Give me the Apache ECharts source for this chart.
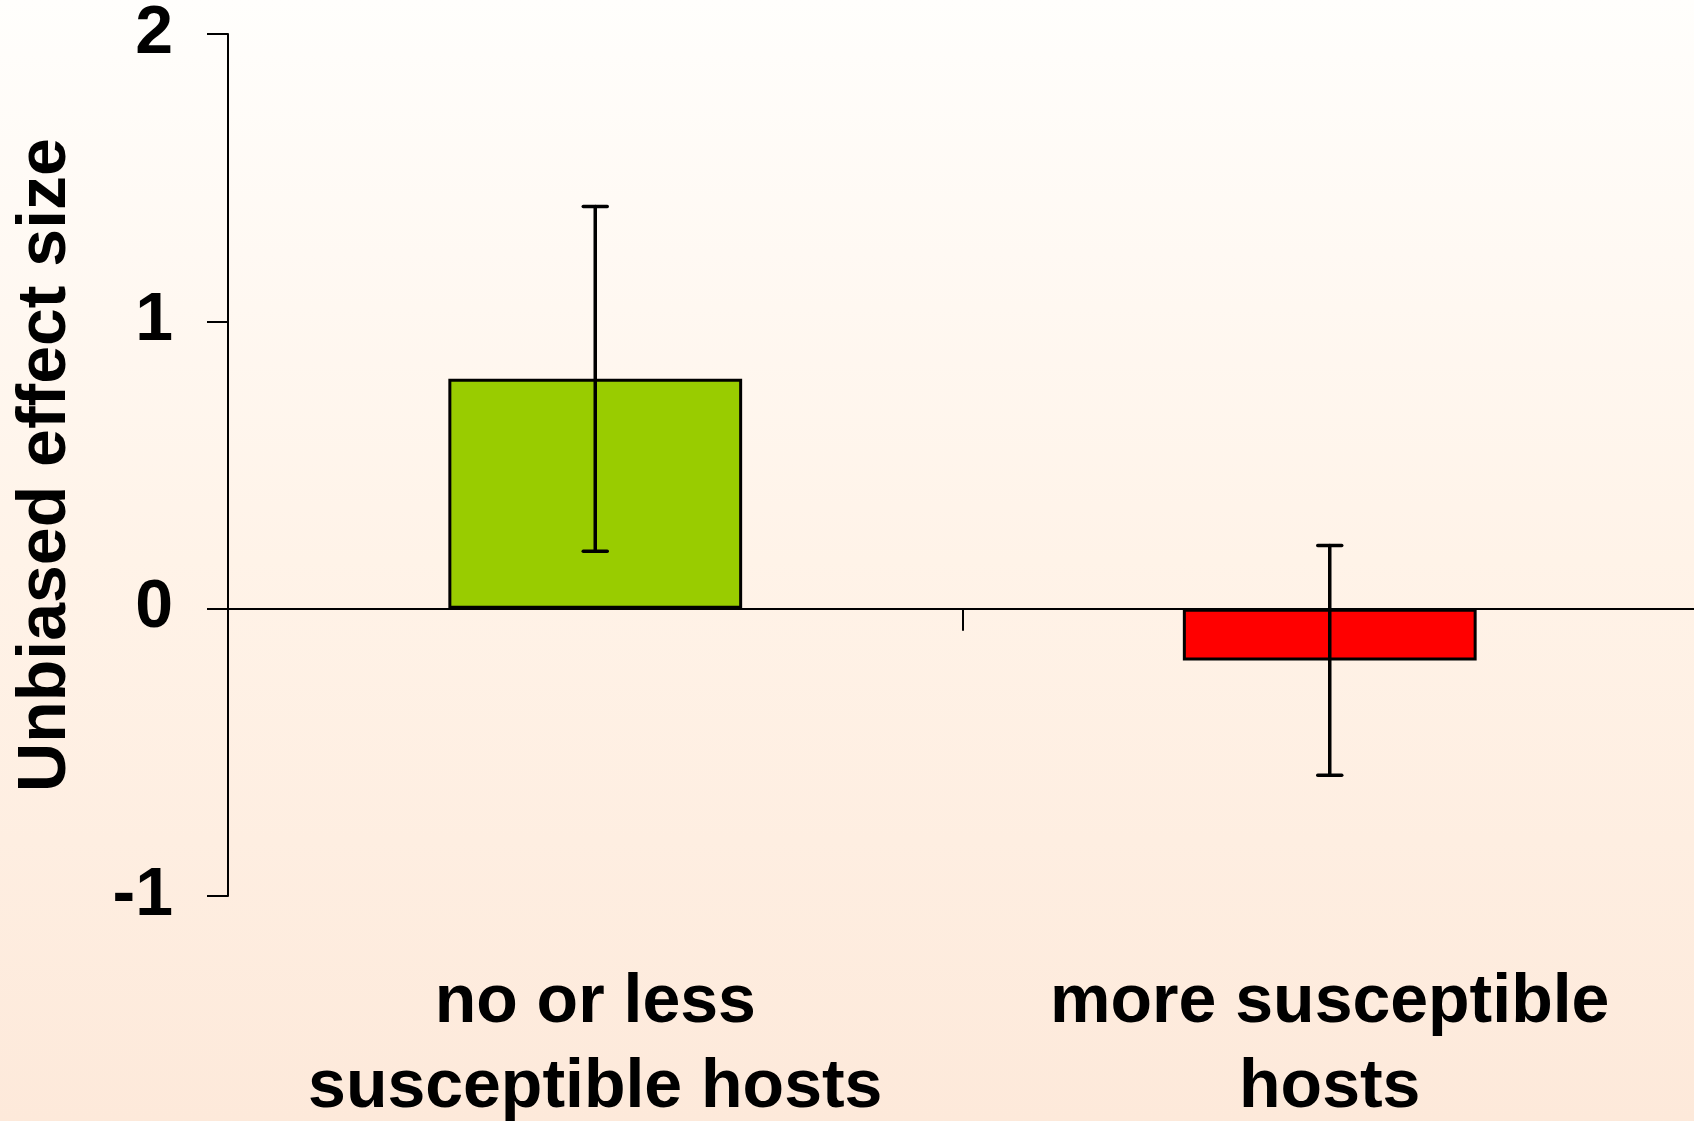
<!DOCTYPE html>
<html>
<head>
<meta charset="utf-8">
<script src="https://cdn.jsdelivr.net/npm/echarts@6/dist/echarts.min.js"></script>
<style>
  html, body { margin: 0; padding: 0; }
  #chart { width: 1694px; height: 1121px; }
</style>
</head>
<body>
<div id="chart"></div>
<script>
// Host groups and their mean unbiased effect sizes with error limits
const categories = ['no or less\nsusceptible hosts', 'more susceptible\nhosts'];
const effectSize = [0.80, -0.18];
const errorLow = [0.20, -0.58];
const errorHigh = [1.40, 0.22];
const barColors = ['#99CC00', '#FF0000'];
const yTicks = [-1, 0, 1, 2];

const FONT = 'Liberation Sans, Arial, sans-serif';

const chart = echarts.init(document.getElementById('chart'), null, { renderer: 'canvas' });

const errorData = categories.map((c, i) => [i, errorLow[i], errorHigh[i]]);

chart.setOption({
  animation: false,
  backgroundColor: {
    type: 'linear', x: 0, y: 0, x2: 0, y2: 1,
    colorStops: [
      { offset: 0, color: '#FFFEFC' },
      { offset: 0.5, color: '#FFF3E8' },
      { offset: 1, color: '#FDE9DA' }
    ]
  },
  grid: { left: 228, right: -3, top: 34, bottom: 225, containLabel: false, outerBoundsMode: 'none' },
  xAxis: [
    {
      type: 'category',
      data: categories,
      axisLine: { onZero: true, lineStyle: { color: '#000', width: 2 } },
      axisTick: { show: true, length: 22, lineStyle: { color: '#000', width: 2 } },
      axisLabel: { show: false },
      splitLine: { show: false }
    },
    {
      type: 'category',
      data: categories,
      position: 'bottom',
      axisLine: { show: false, onZero: false },
      axisTick: { show: false },
      axisLabel: {
        show: true,
        margin: 65,
        color: '#000',
        fontFamily: FONT,
        fontWeight: 'bold',
        fontSize: 68,
        lineHeight: 85,
        interval: 0
      },
      splitLine: { show: false }
    }
  ],
  yAxis: {
    type: 'value',
    min: yTicks[0],
    max: yTicks[yTicks.length - 1],
    interval: 1,
    name: 'Unbiased effect size',
    nameLocation: 'middle',
    nameGap: 148,
    nameTextStyle: { color: '#000', fontFamily: FONT, fontWeight: 'bold', fontSize: 68 },
    axisLine: { show: true, lineStyle: { color: '#000', width: 2 } },
    axisTick: { show: true, length: 21, lineStyle: { color: '#000', width: 2 } },
    axisLabel: { margin: 55, color: '#000', fontFamily: FONT, fontWeight: 'bold', fontSize: 68 },
    splitLine: { show: false }
  },
  series: [
    {
      type: 'bar',
      xAxisIndex: 0,
      barWidth: '40%',
      data: effectSize.map((v, i) => ({
        value: v,
        itemStyle: { color: barColors[i], borderColor: '#000', borderWidth: 3 }
      })),
      z: 2
    },
    {
      type: 'custom',
      xAxisIndex: 0,
      data: errorData,
      z: 3,
      renderItem: function (params, api) {
        const x = api.value(0);
        const lo = api.coord([x, api.value(1)]);
        const hi = api.coord([x, api.value(2)]);
        const half = 12;
        const style = { stroke: '#000', lineWidth: 3.5, lineCap: 'round' };
        return {
          type: 'group',
          children: [
            { type: 'line', shape: { x1: hi[0], y1: hi[1], x2: lo[0], y2: lo[1] }, style: style },
            { type: 'line', shape: { x1: hi[0] - half, y1: hi[1], x2: hi[0] + half, y2: hi[1] }, style: style },
            { type: 'line', shape: { x1: lo[0] - half, y1: lo[1], x2: lo[0] + half, y2: lo[1] }, style: style }
          ]
        };
      }
    }
  ]
});
</script>
</body>
</html>
